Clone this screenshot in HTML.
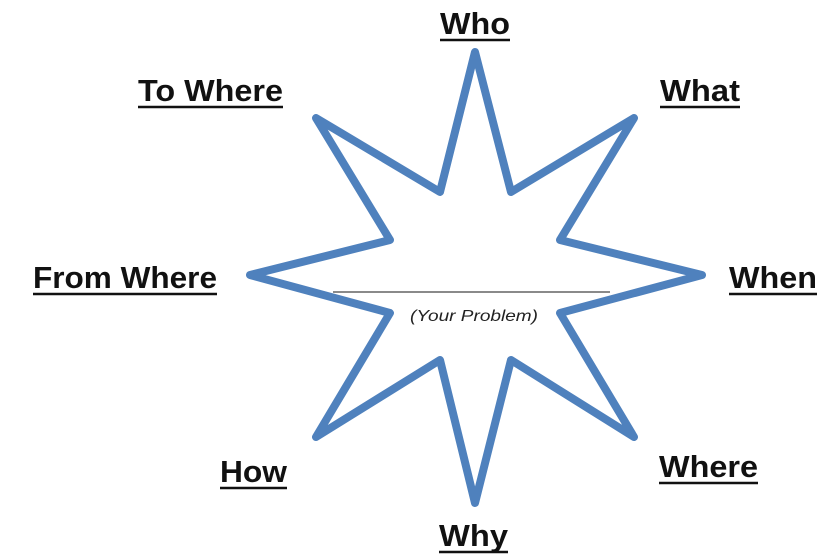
<!DOCTYPE html>
<html><head><meta charset="utf-8"><style>html,body{margin:0;padding:0;background:#fff}svg{display:block}</style></head>
<body>
<svg width="840" height="560" viewBox="0 0 840 560" xmlns="http://www.w3.org/2000/svg">
<polygon points="475,52 511,192 634,118 560,240 702,275 560,313 634,437 511,360 475,503 440,360 316,437 390,313 250,275 390,240 316,118 440,192" fill="#fff" stroke="#4f81bd" stroke-width="8" stroke-linejoin="round"/>
<line x1="333" y1="292" x2="610" y2="292" stroke="#444" stroke-width="1.2"/>
<text x="474" y="321" text-anchor="middle" font-family="Liberation Sans, sans-serif" font-style="italic" font-size="16" fill="#222" textLength="128" lengthAdjust="spacingAndGlyphs">(Your Problem)</text>
<g font-family="Liberation Sans, sans-serif" font-weight="bold" font-size="31" fill="#111">
<text x="440" y="34" textLength="70" lengthAdjust="spacingAndGlyphs">Who</text>
<text x="138" y="101" textLength="145" lengthAdjust="spacingAndGlyphs">To Where</text>
<text x="660" y="101" textLength="80" lengthAdjust="spacingAndGlyphs">What</text>
<text x="33" y="288" textLength="184" lengthAdjust="spacingAndGlyphs">From Where</text>
<text x="729" y="288" textLength="88" lengthAdjust="spacingAndGlyphs">When</text>
<text x="220" y="482" textLength="67" lengthAdjust="spacingAndGlyphs">How</text>
<text x="659" y="477" textLength="99" lengthAdjust="spacingAndGlyphs">Where</text>
<text x="439" y="546" textLength="69" lengthAdjust="spacingAndGlyphs">Why</text>
</g>
<g stroke="#111" stroke-width="2.4">
<line x1="440" y1="40" x2="510" y2="40"/>
<line x1="138" y1="107" x2="283" y2="107"/>
<line x1="660" y1="107" x2="740" y2="107"/>
<line x1="33" y1="294" x2="217" y2="294"/>
<line x1="729" y1="294" x2="817" y2="294"/>
<line x1="220" y1="488" x2="287" y2="488"/>
<line x1="659" y1="483" x2="758" y2="483"/>
<line x1="439" y1="552" x2="508" y2="552"/>
</g>
</svg>
</body></html>
